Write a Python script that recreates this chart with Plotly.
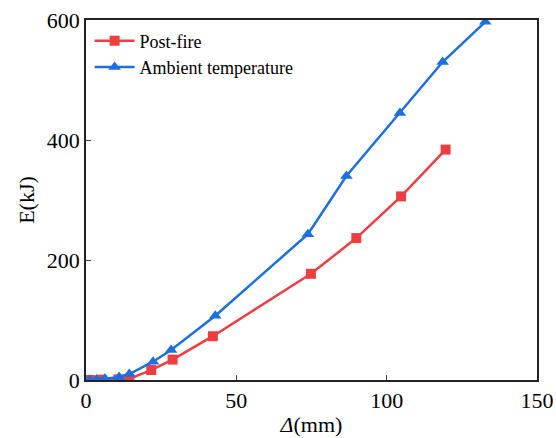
import plotly.graph_objects as go

post_x = [1.3, 5.2, 10.8, 14.4, 21.7, 28.8, 42.2, 74.8, 89.9, 104.8, 119.6]
post_y = [0.0, 0.5, 1.0, 2.0, 16.6, 34.0, 73.0, 177.0, 236.5, 306.0, 384.0]

amb_x = [1.1, 3.5, 6.3, 11.0, 14.4, 22.3, 28.3, 43.0, 73.8, 86.6, 104.4, 118.6, 132.8]
amb_y = [0.5, 1.0, 2.0, 5.0, 10.0, 30.5, 50.0, 107.0, 243.0, 340.0, 445.0, 530.0, 597.0]

red = "#EF3E42"
blue = "#1B6FE0"
font = "Liberation Serif"

fig = go.Figure()
fig.add_trace(go.Scatter(x=post_x, y=post_y, mode="lines+markers", name="Post-fire",
                         line=dict(color=red, width=2.5),
                         marker=dict(symbol="square", size=10, color=red)))
fig.add_trace(go.Scatter(x=amb_x, y=amb_y, mode="lines+markers", name="Ambient temperature",
                         line=dict(color=blue, width=2.5),
                         marker=dict(symbol="triangle-up", size=11, color=blue)))

fig.update_layout(
    width=556, height=438,
    margin=dict(l=86, r=19, t=20, b=58),
    paper_bgcolor="white", plot_bgcolor="white",
    font=dict(family=font, size=22, color="black"),
    showlegend=True,
    legend=dict(x=0.008, y=0.993, xanchor="left", yanchor="top",
                bgcolor="rgba(0,0,0,0)", font=dict(family=font, size=18),
                tracegroupgap=0, itemwidth=40),
    xaxis=dict(range=[0, 150], tickvals=[0, 50, 100, 150], ticks="inside", ticklen=5,
               showline=True, linecolor="#222", linewidth=1.5, mirror=True,
               showgrid=False, zeroline=False, automargin=False,
               title=dict(text="<i>Δ</i>(mm)", standoff=4, font=dict(family=font, size=22)),
               tickfont=dict(family=font, size=22)),
    yaxis=dict(range=[0, 600], tickvals=[0, 200, 400, 600], ticks="inside", ticklen=5,
               showline=True, linecolor="#222", linewidth=1.5, mirror=True,
               showgrid=False, zeroline=False, automargin=False,
               title=dict(text="E(kJ)", standoff=6, font=dict(family=font, size=22)),
               tickfont=dict(family=font, size=22)),
)

fig.write_html("out.html")
